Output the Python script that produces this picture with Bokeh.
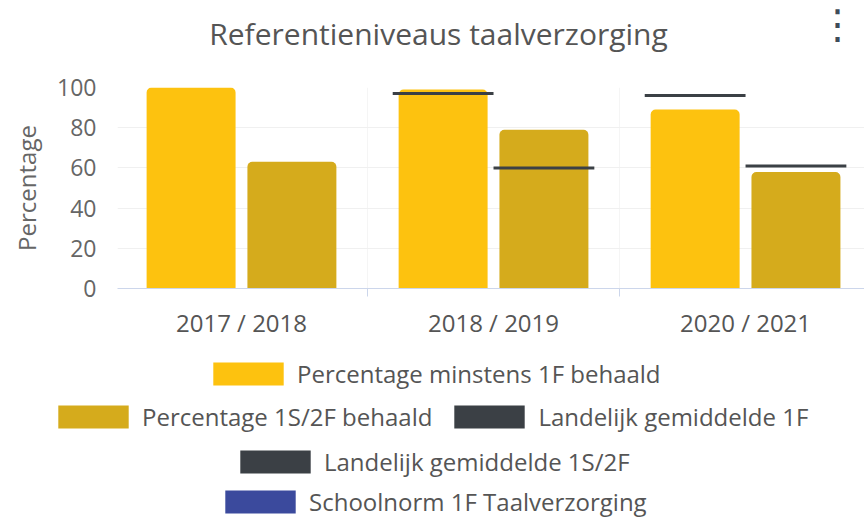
import math
from bokeh.plotting import figure
from bokeh.layouts import column
from bokeh.models import (Range1d, FixedTicker, Legend, LegendItem, Label,
                          ColumnDataSource)
from bokeh.embed import file_html
from bokeh.resources import INLINE

# ---- data -------------------------------------------------------------
categories = ["2017 / 2018", "2018 / 2019", "2020 / 2021"]
pct_min_1f = [100, 99, 89]          # Percentage minstens 1F behaald
pct_1s2f = [63, 79, 58]             # Percentage 1S/2F behaald
landelijk_1f = [None, 97, 96]       # Landelijk gemiddelde 1F
landelijk_1s2f = [None, 60, 61]     # Landelijk gemiddelde 1S/2F
schoolnorm_1f = [None, None, None]  # Schoolnorm 1F Taalverzorging (no values)
y_ticks = [0, 20, 40, 60, 80, 100]
title_text = "Referentieniveaus taalverzorging"
y_label = "Percentage"
series_names = ["Percentage minstens 1F behaald", "Percentage 1S/2F behaald",
                "Landelijk gemiddelde 1F", "Landelijk gemiddelde 1S/2F",
                "Schoolnorm 1F Taalverzorging"]

# ---- styling ----------------------------------------------------------
FONT = "Open Sans"
C_1F = "#FDC20F"
C_1S2F = "#D5AB1C"
C_LAND = "#3B4045"
C_SCHOOL = "#3B4A9D"
TXT = "#555555"
W = 864


def nan(vals):
    return [math.nan if v is None else v for v in vals]


def strip(height):
    f = figure(width=W, height=height, output_backend="svg", toolbar_location=None,
               x_axis_type=None, y_axis_type=None, min_border=0,
               x_range=Range1d(0, 1), y_range=Range1d(0, 1), frame_align=False)
    f.outline_line_color = None
    f.grid.visible = False
    return f


# ---- title strip --------------------------------------------------------
top = strip(67)
top.add_layout(Label(x=438, y=34, x_units="screen", y_units="screen",
                     text=title_text, text_align="center",
                     text_baseline="middle", text_font=FONT,
                     text_font_size="30px", text_color=TXT))
top.add_layout(Label(x=837, y=44, x_units="screen", y_units="screen",
                     text="\u22ee", text_align="center", text_baseline="middle",
                     text_font="DejaVu Sans", text_font_size="40px",
                     text_color="#3f4c58"))

# ---- main chart ---------------------------------------------------------
idx = list(range(len(categories)))
OFF = 0.2

p = figure(width=W, height=274, output_backend="svg", toolbar_location=None,
           x_range=Range1d(-0.492, 2.472), y_range=Range1d(0, 100),
           min_border_left=117, min_border_right=0,
           min_border_top=20, min_border_bottom=50, frame_align=False)
p.outline_line_color = None

src_a = ColumnDataSource(dict(x=[i - OFF for i in idx], top=pct_min_1f))
src_b = ColumnDataSource(dict(x=[i + OFF for i in idx], top=pct_1s2f))
p.vbar(x="x", top="top", bottom=0, width=0.353, source=src_a,
       fill_color=C_1F, line_color=None, border_radius=(5, 5, 0, 0))
p.vbar(x="x", top="top", bottom=0, width=0.353, source=src_b,
       fill_color=C_1S2F, line_color=None, border_radius=(5, 5, 0, 0))


def marks(vals, off):
    return ColumnDataSource(dict(x=[i + off for i in idx], y=nan(vals)))


p.rect(x="x", y="y", width=0.4, height=3, height_units="screen",
       source=marks(landelijk_1f, -OFF), fill_color=C_LAND, line_color=None)
p.rect(x="x", y="y", width=0.4, height=3, height_units="screen",
       source=marks(landelijk_1s2f, OFF), fill_color=C_LAND, line_color=None)
p.rect(x="x", y="y", width=0.4, height=3, height_units="screen",
       source=marks(schoolnorm_1f, -OFF), fill_color=C_SCHOOL, line_color=None)

xa = p.xaxis[0]
xa.ticker = FixedTicker(ticks=idx, minor_ticks=[-0.5, 0.5, 1.5, 2.5])
xa.major_label_overrides = {i: c for i, c in zip(idx, categories)}
xa.major_label_text_font = FONT
xa.major_label_text_font_size = "24px"
xa.major_label_text_color = TXT
xa.major_label_standoff = 9
xa.major_tick_out = 0
xa.major_tick_in = 0
xa.minor_tick_out = 8
xa.minor_tick_in = 0
xa.minor_tick_line_color = "#ccd6eb"
xa.axis_line_color = "#ccd6eb"

ya = p.yaxis[0]
ya.ticker = FixedTicker(ticks=y_ticks)
ya.minor_tick_line_color = None
ya.major_tick_line_color = None
ya.axis_line_color = None
ya.major_label_text_font = FONT
ya.major_label_text_font_size = "23px"
ya.major_label_text_color = "#666666"
ya.major_label_standoff = 15
ya.axis_label = y_label
ya.axis_label_text_font = FONT
ya.axis_label_text_font_size = "24px"
ya.axis_label_text_font_style = "normal"
ya.axis_label_text_color = "#666666"
ya.axis_label_standoff = 11

p.ygrid.grid_line_color = "#f0f0f0"
p.xgrid.ticker = FixedTicker(ticks=[-0.5, 0.5, 1.5, 2.5])
p.xgrid.grid_line_color = "#f5f5f5"

# ---- legend strip: legend keys styled like the series ---------------------
leg = strip(177)
colors = [C_1F, C_1S2F, C_LAND, C_LAND, C_SCHOOL]
keys = [leg.rect(x=[math.nan], y=[math.nan], width=1, height=1,
                 fill_color=c, line_color=None) for c in colors]
rows = [([0], (204, 128)), ([1, 2], (49, 85)), ([3], (231, 40)), ([4], (216, 0))]
for members, loc in rows:
    lg = Legend(items=[LegendItem(label=series_names[k], renderers=[keys[k]])
                       for k in members],
                location=loc, orientation="horizontal",
                glyph_width=88, glyph_height=29, label_height=29,
                label_standoff=5, spacing=13, padding=0, margin=0,
                label_text_font=FONT, label_text_font_size="24px",
                label_text_color=TXT, label_text_baseline="middle",
                border_line_alpha=0, background_fill_alpha=0)
    leg.add_layout(lg)

open("out.html", "w").write(file_html(column(top, p, leg, spacing=0), INLINE))
